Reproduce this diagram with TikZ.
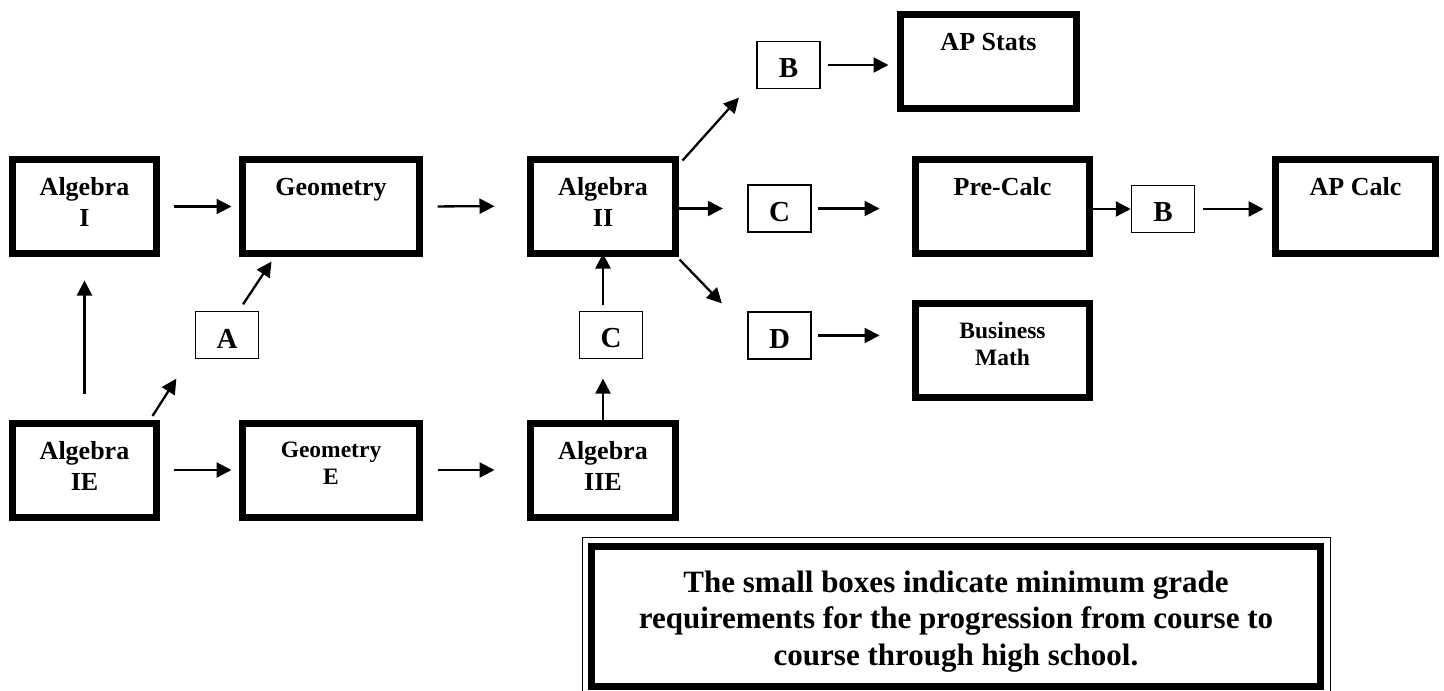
\documentclass[tikz,border=0pt]{standalone}
\usepackage{fontspec}
\setmainfont{Liberation Serif}
\usetikzlibrary{arrows.meta}
\tikzset{
  course/.style={draw, line width=3.5pt, minimum height=47pt, inner sep=0pt},
  title/.style={anchor=north, inner sep=0pt, yshift=-10.75pt, align=center,
    font=\fontsize{13}{15.5}\selectfont\bfseries},
  smalltitle/.style={title, yshift=-0.5pt, font=\fontsize{11.75}{13.5}\selectfont\bfseries},
  grade/.style={draw, line width=0.75pt, minimum width=31.5pt, minimum height=23.5pt,
    inner sep=0pt, text height=13pt, font=\fontsize{14.5}{16}\selectfont\bfseries},
  arr/.style={-{Triangle[length=7.5pt,width=7.5pt]}, line width=1.15pt},
}
\begin{document}
\begin{tikzpicture}[x=0.5pt, y=-0.5pt]
  \useasboundingbox (0,0) rectangle (1444,690);
  % courses
  \node[course, minimum width=72pt] (alg1) at (84.5,206.5) {};
  \node[course, minimum width=88.5pt] (geo) at (331,206.5) {};
  \node[course, minimum width=72.5pt] (alg2) at (603,206) {};
  \node[course, minimum width=72pt] (alg1e) at (84.5,470) {};
  \node[course, minimum width=88.5pt] (geoe) at (331,470) {};
  \node[course, minimum width=72.5pt] (alg2e) at (603,470) {};
  \node[course, minimum width=88pt] (stats) at (988.5,61.5) {};
  \node[course, minimum width=87pt] (precalc) at (1002.5,206) {};
  \node[course, minimum width=87pt] (business) at (1002.5,350) {};
  \node[course, minimum width=80pt] (calc) at (1355.5,206) {};
  \node[title] (alg1-t) at (alg1.north) {Algebra\\I};
  \node[title] (geo-t) at (geo.north) {Geometry};
  \node[title] (alg2-t) at (alg2.north) {Algebra\\II};
  \node[title] (alg1e-t) at (alg1e.north) {Algebra\\IE};
  \node[smalltitle] (geoe-t) at (geoe.north) {Geometry\\E};
  \node[title] (alg2e-t) at (alg2e.north) {Algebra\\IIE};
  \node[title] (stats-t) at (stats.north) {AP Stats};
  \node[title] (precalc-t) at (precalc.north) {Pre-Calc};
  \node[smalltitle] (business-t) at (business.north) {Business\\Math};
  \node[title] (calc-t) at (calc.north) {AP Calc};
  % grades
  \node[grade] (a) at (227,335) {A};
  \node[grade] (b1) at (788.5,65) {B};
  \node[grade] (c1) at (779.5,208.5) {C};
  \node[grade] (d) at (779.5,335.5) {D};
  \node[grade] (c2) at (611,335) {C};
  \node[grade] (b2) at (1163,209) {B};
  % arrows
  \begin{scope}[arr]
    \draw[shorten <=6.75pt, shorten >=3.75pt] (alg1.east) -- (geo.west);
    \draw[shorten <=7.25pt, shorten >=16.25pt] (geo.east) -- (alg2.west);
    \draw[shorten <=6.75pt, shorten >=3.75pt] (alg1e.east) -- (geoe.west);
    \draw[shorten <=7.25pt, shorten >=16.25pt] (geoe.east) -- (alg2e.west);
    \draw[shorten <=12.75pt, shorten >=11.75pt] (alg1e.north) -- (alg1.south);
    \draw ([shift={(-3.75pt,1.75pt)}]alg1e.north east) -- ([shift={(-9.2pt,-9.7pt)}]a.south west);
    \draw ([shift={(8pt,3.2pt)}]a.north) -- ([shift={(16.25pt,-2.25pt)}]geo.south west);
    \draw[shorten <=-1.75pt, shorten >=9.7pt] (alg2e.north) -- (alg2e.north |- c2.south);
    \draw[shorten <=2.7pt, shorten >=-1.5pt] (alg2.south |- c2.north) -- (alg2.south);
    \draw ([shift={(1.75pt,-2.5pt)}]alg2.north east) -- ([shift={(-8.7pt,-4.2pt)}]b1.south west);
    \draw[shorten <=-1.75pt, shorten >=12.2pt] (alg2.east |- c1.west) -- (c1.west);
    \draw ([shift={(0.25pt,-1.5pt)}]alg2.south east) -- ([shift={(-12.7pt,3.95pt)}]d.north west);
    \draw[shorten <=3.7pt, shorten >=4.25pt] (b1.east) -- (b1.east -| stats.west);
    \draw[shorten <=3.2pt, shorten >=16.25pt] (c1.east) -- (c1.east -| precalc.west);
    \draw[shorten <=3.2pt, shorten >=16.25pt] (d.east) -- (d.east -| business.west);
    \draw[shorten <=-1.75pt] (precalc.east |- b2.west) -- (b2.west);
    \draw[shorten <=3.9pt, shorten >=4.25pt] (b2.east) -- (b2.east -| calc.west);
  \end{scope}
  % note
  \node[draw, line width=3.5pt, minimum width=364.5pt, minimum height=70pt] (note) at (956,616.5) {};
  \draw[line width=0.5pt] ([shift={(-3pt,3pt)}]note.north west) rectangle ([shift={(3pt,-3pt)}]note.south east);
  \node[align=center, inner sep=0pt, font=\fontsize{15.5}{18.25}\selectfont\bfseries] (notetext)
    at ([yshift=-2.5pt]note.center)
    {The small boxes indicate minimum grade\\requirements for the progression from course to\\course through high school.};
\end{tikzpicture}
\end{document}
